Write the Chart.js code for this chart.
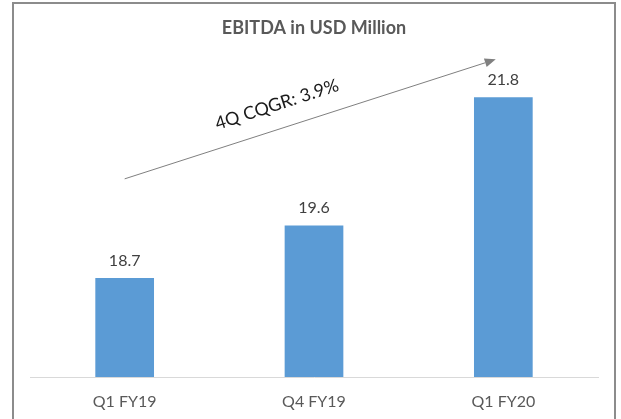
<!DOCTYPE html>
<html>
<head>
<meta charset="utf-8">
<script src="https://cdn.jsdelivr.net/npm/chart.js@4/dist/chart.umd.min.js"></script>
<style>
  html, body { margin: 0; padding: 0; background: #fff; }
  #wrap { width: 621px; height: 419px; position: relative; }
</style>
</head>
<body>
<div id="wrap"><canvas id="bar-chart"></canvas></div>
<script>
// chart data
var categories = ['Q1 FY19', 'Q4 FY19', 'Q1 FY20'];
var ebitda = [18.7, 19.6, 21.8];
var chartTitle = 'EBITDA in USD Million';
var yMin = 17, yMax = 22;
// growth arrow, given as [category index, value]
var growthLabel = '4Q CQGR: 3.9%';
var arrowFrom = [0, 20.4];
var arrowTo = [1.96, 22.45];

var fontName = 'Lato, "Open Sans", sans-serif';

var framePlugin = {
  id: 'frame',
  beforeDraw: function(chart) {
    var ctx = chart.ctx;
    ctx.save();
    ctx.fillStyle = '#ffffff';
    ctx.fillRect(0, 0, chart.width, chart.height);
    ctx.strokeStyle = '#8c8c8c';
    ctx.lineWidth = 2;
    ctx.strokeRect(13, 3, 602, 440);
    ctx.restore();
  }
};

var valueLabels = {
  id: 'valueLabels',
  afterDatasetsDraw: function(chart) {
    var ctx = chart.ctx;
    var meta = chart.getDatasetMeta(0);
    ctx.save();
    ctx.font = '16px ' + fontName;
    ctx.fillStyle = '#404040';
    ctx.textAlign = 'center';
    ctx.textBaseline = 'alphabetic';
    meta.data.forEach(function(bar, i) {
      ctx.fillText(ebitda[i].toFixed(1), bar.x, bar.y - 12);
    });
    ctx.restore();
  }
};

var growthArrow = {
  id: 'growthArrow',
  afterDraw: function(chart) {
    var xs = chart.scales.x, ys = chart.scales.y;
    var x1 = xs.getPixelForValue(arrowFrom[0]), y1 = ys.getPixelForValue(arrowFrom[1]);
    var x2 = xs.getPixelForValue(arrowTo[0]), y2 = ys.getPixelForValue(arrowTo[1]);
    var ang = Math.atan2(y2 - y1, x2 - x1);
    var ctx = chart.ctx;
    ctx.save();
    ctx.strokeStyle = '#808080';
    ctx.fillStyle = '#808080';
    ctx.lineWidth = 1;
    var hl = 11, hw = 4.5;
    var bx = x2 - hl * Math.cos(ang), by = y2 - hl * Math.sin(ang);
    ctx.beginPath();
    ctx.moveTo(x1, y1);
    ctx.lineTo(bx, by);
    ctx.stroke();
    ctx.beginPath();
    ctx.moveTo(x2, y2);
    ctx.lineTo(bx + hw * Math.sin(ang), by - hw * Math.cos(ang));
    ctx.lineTo(bx - hw * Math.sin(ang), by + hw * Math.cos(ang));
    ctx.closePath();
    ctx.fill();
    // label along the arrow
    var t = 0.43;
    var mx = x1 + (x2 - x1) * t, my = y1 + (y2 - y1) * t;
    ctx.translate(mx, my);
    ctx.rotate(ang);
    ctx.font = '18px ' + fontName;
    ctx.fillStyle = '#1a1a1a';
    ctx.textAlign = 'center';
    ctx.textBaseline = 'middle';
    ctx.fillText(growthLabel, 0, -24);
    ctx.restore();
  }
};

new Chart(document.getElementById('bar-chart'), {
  type: 'bar',
  data: {
    labels: categories,
    datasets: [{
      label: 'EBITDA',
      data: ebitda,
      backgroundColor: '#5B9BD5',
      categoryPercentage: 1,
      barPercentage: 0.31
    }]
  },
  options: {
    responsive: true,
    maintainAspectRatio: false,
    animation: false,
    layout: { padding: { left: 30, right: 23, top: 0, bottom: 0 } },
    plugins: {
      legend: { display: false },
      tooltip: { enabled: false },
      title: {
        display: true,
        text: chartTitle,
        color: '#595959',
        font: { family: fontName, size: 18, weight: 'bold' },
        padding: { top: 17, bottom: 47 }
      }
    },
    scales: {
      x: {
        grid: { display: false, drawTicks: false },
        border: { display: true, color: '#d9d9d9', width: 1 },
        ticks: { color: '#595959', font: { family: fontName, size: 16 }, padding: 15 },
        afterFit: function(scale) { scale.height = 42; }
      },
      y: { display: false, min: yMin, max: yMax }
    }
  },
  plugins: [framePlugin, valueLabels, growthArrow]
});
</script>
</body>
</html>
